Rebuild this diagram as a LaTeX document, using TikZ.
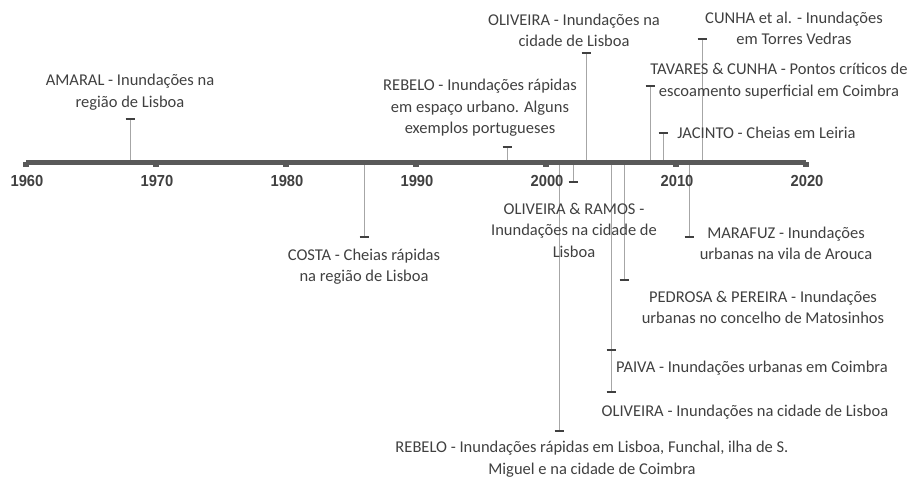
\documentclass[tikz,border=0pt]{standalone}
\usepackage{fontspec}
\setmainfont{Carlito}
\newfontfamily\yearfont{Liberation Sans}
\definecolor{axisgray}{HTML}{595959}
\definecolor{stemgray}{HTML}{A6A6A6}
\definecolor{bargray}{HTML}{404040}
\definecolor{txtgray}{HTML}{404040}
\tikzset{
  axisline/.style={draw=axisgray, line width=5pt},
  tickmark/.style={fill=axisgray, draw=none},
  stem/.style={draw=stemgray, line width=1pt},
  capbar/.style={draw=bargray, line width=2.5pt},
  lbl/.style={text=txtgray, align=center, inner sep=0pt, font=\fontsize{16.5}{21.5}\selectfont},
  yr/.style={text=bargray, inner sep=0pt, font=\yearfont\bfseries\fontsize{16}{18}\selectfont}
}
\newcommand{\capat}[1]{\draw[capbar] ([xshift=-4.5pt]#1) -- ([xshift=4.5pt]#1);}
\newcommand{\yrtext}[1]{\scalebox{0.92}[1]{#1}}
\begin{document}
\begin{tikzpicture}[x=1pt,y=-1pt]
\useasboundingbox (0,0) rectangle (913,477);

% axis coordinates
\coordinate (a1960) at (26,162);
\coordinate (a2020) at (806,162);

% event coordinates (axis point and end point)
\coordinate (amaralA) at (130,162);   \coordinate (amaralE) at (130,119);
\coordinate (costaA) at (364,162);    \coordinate (costaE) at (364,237);
\coordinate (rebeloAA) at (507,162);  \coordinate (rebeloAE) at (507,147);
\coordinate (rebeloBA) at (559,162);  \coordinate (rebeloBE) at (559,431);
\coordinate (oliramA) at (573,162);   \coordinate (oliramE) at (573,182);
\coordinate (oliAA) at (586,162);     \coordinate (oliAE) at (586,53);
\coordinate (oliBA) at (611,162);     \coordinate (oliBE) at (611,392);
\coordinate (paivaA) at (611,162);    \coordinate (paivaE) at (611,350);
\coordinate (pedrosaA) at (624,162);  \coordinate (pedrosaE) at (624,280);
\coordinate (tavaresA) at (650,162);  \coordinate (tavaresE) at (650,86);
\coordinate (jacintoA) at (663,162);  \coordinate (jacintoE) at (663,133);
\coordinate (marafuzA) at (689,162);  \coordinate (marafuzE) at (689,237);
\coordinate (cunhaA) at (702,162);    \coordinate (cunhaE) at (702,39);

% stems
\foreach \e in {amaral,costa,rebeloA,rebeloB,oliram,oliA,oliB,paiva,pedrosa,tavares,jacinto,marafuz,cunha}
  {\draw[stem] (\e A) -- (\e E);}

% axis
\draw[axisline] (a1960) -- (a2020);
\foreach \x in {26,156,286,416,546,676,806}
  {\fill[tickmark] (\x-3,162) rectangle (\x+3,167);}

% caps
\foreach \e in {amaral,costa,rebeloA,rebeloB,oliram,oliA,oliB,paiva,pedrosa,tavares,jacinto,marafuz,cunha}
  {\capat{\e E}}

% year labels
\node[yr] (y1960) at (27,181) {\yrtext{1960}};
\node[yr] (y1970) at (157,181) {\yrtext{1970}};
\node[yr] (y1980) at (287,181) {\yrtext{1980}};
\node[yr] (y1990) at (417,181) {\yrtext{1990}};
\node[yr] (y2000) at (547,181) {\yrtext{2000}};
\node[yr] (y2010) at (677,181) {\yrtext{2010}};
\node[yr] (y2020) at (807,181) {\yrtext{2020}};

% labels
\node[lbl] (amaral) at (130,92) {AMARAL - Inundações na\\região de Lisboa};
\node[lbl] (costa) at (364,266.5) {COSTA - Cheias rápidas\\na região de Lisboa};
\node[lbl] (rebeloA) at (480,108) {REBELO - Inundações rápidas\\em espaço urbano. Alguns\\exemplos portugueses};
\node[lbl] (rebeloB) at (592,459) {REBELO - Inundações rápidas em Lisboa, Funchal, ilha de S.\\Miguel e na cidade de Coimbra};
\node[lbl] (oliram) at (574,230) {OLIVEIRA \& RAMOS -\\Inundações na cidade de\\Lisboa};
\node[lbl] (oliA) at (574,30.5) {OLIVEIRA - Inundações na\\cidade de Lisboa};
\node[lbl] (oliB) at (745,412) {OLIVEIRA - Inundações na cidade de Lisboa};
\node[lbl] (paiva) at (752,368) {PAIVA - Inundações urbanas em Coimbra};
\node[lbl] (pedrosa) at (763,307.5) {PEDROSA \& PEREIRA - Inundações\\urbanas no concelho de Matosinhos};
\node[lbl] (tavares) at (779,81) {TAVARES \& CUNHA - Pontos críticos de\\escoamento superficial em Coimbra};
\node[lbl] (jacinto) at (766.5,133) {JACINTO - Cheias em Leiria};
\node[lbl] (marafuz) at (786,243.5) {MARAFUZ - Inundações\\urbanas na vila de Arouca};
\node[lbl] (cunha) at (794,28.5) {CUNHA et al. - Inundações\\em Torres Vedras};
\end{tikzpicture}
\end{document}
